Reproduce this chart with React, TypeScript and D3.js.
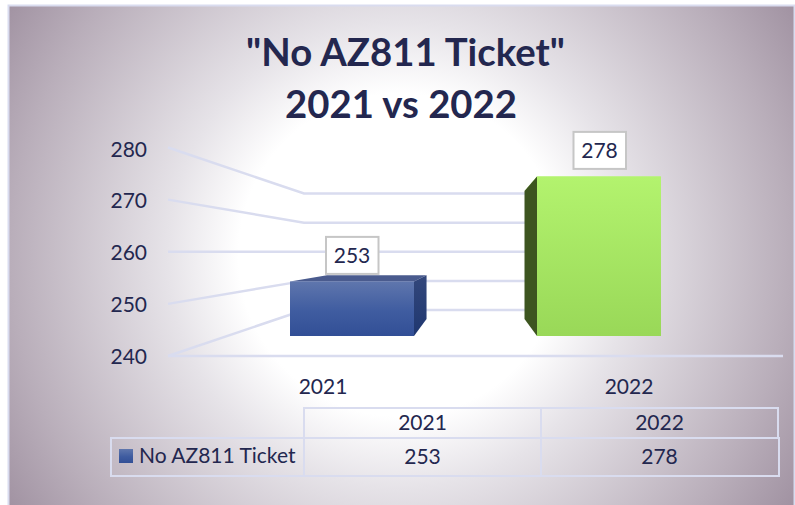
import React from "react";
import * as d3 from "d3";

const titleLines = ['"No AZ811 Ticket"', "2021 vs 2022"];
const seriesName = "No AZ811 Ticket";
const categories = ["2021", "2022"];
const values = [253, 278];
const yTicks = [240, 250, 260, 270, 280];

const INK = "#23274f";
const GRID = "#d9dcef";
const FONT = "Lato, 'Open Sans', sans-serif";

// Perspective box: front plane of bars, back plane of bars, and the chart wall
const yFront = d3.scaleLinear().domain([240, 280]).range([336, 168]);
const yBack = d3.scaleLinear().domain([240, 280]).range([319, 184.2]);
const yWallFront = d3.scaleLinear().domain([240, 280]).range([356, 147.5]);
const yWallBack = d3.scaleLinear().domain([240, 280]).range([310, 193.5]);
const yTickLabel = d3.scaleLinear().domain([240, 280]).range([364, 156.6]);
const xFront = d3.scaleBand().domain(categories).range([166.5, 784.5]).paddingInner(0.498).paddingOuter(0.5);
const xBack = d3.scaleBand().domain(categories).range([228.25, 722.8]).paddingInner(0.496).paddingOuter(0.5);
const xAxisLabel = d3.scalePoint().domain(categories).range([323, 629]);
const xTable = d3.scaleBand().domain(categories).range([304, 778]);

const poly = (pts: [number, number][]) => pts.map((p) => p.join(",")).join(" ");

export default function App() {
  const wallLeft = 168;
  const wallBackX = 304;
  return (
    <svg width={795} height={505} style={{ position: "absolute", left: 0, top: 0, fontFamily: FONT }}>
      <defs>
        <radialGradient id="bg" gradientUnits="userSpaceOnUse" cx={400} cy={255} r={475}>
          <stop offset="0.34" stopColor="#ffffff" />
          <stop offset="0.49" stopColor="#e6e3e8" />
          <stop offset="0.82" stopColor="#b9aeba" />
          <stop offset="1" stopColor="#9e8f9f" />
        </radialGradient>
        <linearGradient id="blueFront" x1="0" y1="0" x2="0" y2="1">
          <stop offset="0" stopColor="#5f76ad" />
          <stop offset="0.55" stopColor="#3f5ca0" />
          <stop offset="1" stopColor="#324f96" />
        </linearGradient>
        <linearGradient id="blueSide" x1="0" y1="0" x2="0" y2="1">
          <stop offset="0" stopColor="#33477b" />
          <stop offset="1" stopColor="#1f3770" />
        </linearGradient>
        <linearGradient id="greenFront" x1="0" y1="0" x2="0" y2="1">
          <stop offset="0" stopColor="#b3f36e" />
          <stop offset="1" stopColor="#99d858" />
        </linearGradient>
      </defs>

      <rect x={8.5} y={5.5} width={786} height={505} fill="url(#bg)" stroke={GRID} strokeWidth={2} />

      {/* title */}
      {titleLines.map((t, i) => (
        <text key={t} x={[405.5, 401][i]} y={[66, 117.5][i]} textAnchor="middle" fontSize={38.3} fontWeight={700} fill={INK}>
          {t}
        </text>
      ))}

      {/* wall and floor gridlines */}
      <g fill="none" stroke={GRID} strokeWidth={2.5}>
        {yTicks.map((t) => (
          <polyline
            key={t}
            points={poly(
              t === 240
                ? [[wallLeft, yWallFront(t)], [783, yWallFront(t)]]
                : [[wallLeft, yWallFront(t)], [wallBackX, yWallBack(t)], [640, yWallBack(t)]],
            )}
          />
        ))}
        <line x1={wallLeft} y1={yWallFront(240)} x2={wallBackX} y2={yWallBack(240)} />
        <line x1={wallBackX} y1={yWallBack(240)} x2={640} y2={yWallBack(240)} />
      </g>

      {/* y ticks */}
      {yTicks.map((t) => (
        <text key={t} x={147} y={yTickLabel(t)} textAnchor="end" fontSize={21} fill={INK}>
          {t}
        </text>
      ))}

      {/* bars */}
      {categories.map((c, i) => {
        const v = values[i];
        const fx0 = xFront(c)!;
        const fx1 = fx0 + xFront.bandwidth();
        const bx0 = xBack(c)!;
        const bx1 = bx0 + xBack.bandwidth();
        const fTop = yFront(v);
        const fBot = yFront(240);
        const bTop = yBack(v);
        const bBot = yBack(240);
        const isBlue = i === 0;
        return (
          <g key={c}>
            <polygon
              points={poly([[fx0, fTop], [bx0, bTop], [bx1, bTop], [fx1, fTop]])}
              fill={isBlue ? "#4a5b8e" : "#c2f58c"}
            />
            {isBlue ? (
              <polygon points={poly([[fx1, fTop], [bx1, bTop], [bx1, bBot], [fx1, fBot]])} fill="url(#blueSide)" />
            ) : (
              <polygon points={poly([[fx0, fTop], [bx0, bTop], [bx0, bBot], [fx0, fBot]])} fill="#3d5520" />
            )}
            <rect x={fx0} y={fTop} width={fx1 - fx0} height={fBot - fTop} fill={`url(#${isBlue ? "blueFront" : "greenFront"})`} />
          </g>
        );
      })}

      {/* data labels */}
      {categories.map((c, i) => {
        const lx = [352, 599.5][i];
        const ly = yFront(values[i]) - 26;
        return (
          <g key={c}>
            <rect x={lx - 26} y={ly - 18.5} width={52.5} height={37} fill="#fff" stroke="#c6c6c6" strokeWidth={2} />
            <text x={lx} y={ly} dy="0.36em" textAnchor="middle" fontSize={21} fill={INK}>
              {values[i]}
            </text>
          </g>
        );
      })}

      {/* category axis labels */}
      {categories.map((c) => (
        <text key={c} x={xAxisLabel(c)} y={394} textAnchor="middle" fontSize={21} fill={INK}>
          {c}
        </text>
      ))}

      {/* data table */}
      <g fill="none" stroke={GRID} strokeWidth={2}>
        <rect x={304} y={408} width={474} height={30} />
        <rect x={111} y={438} width={668} height={38} />
        <line x1={304} y1={438} x2={304} y2={476} />
        <line x1={xTable("2022")} y1={408} x2={xTable("2022")} y2={476} />
      </g>
      {categories.map((c, i) => (
        <g key={c} fontSize={21} fill={INK} textAnchor="middle">
          <text x={xTable(c)! + xTable.bandwidth() / 2} y={430}>{c}</text>
          <text x={xTable(c)! + xTable.bandwidth() / 2} y={464}>{values[i]}</text>
        </g>
      ))}
      <rect x={119} y={449} width={14} height={14} fill="url(#blueFront)" />
      <text x={139} y={463} fontSize={21} fill={INK}>{seriesName}</text>
    </svg>
  );
}
